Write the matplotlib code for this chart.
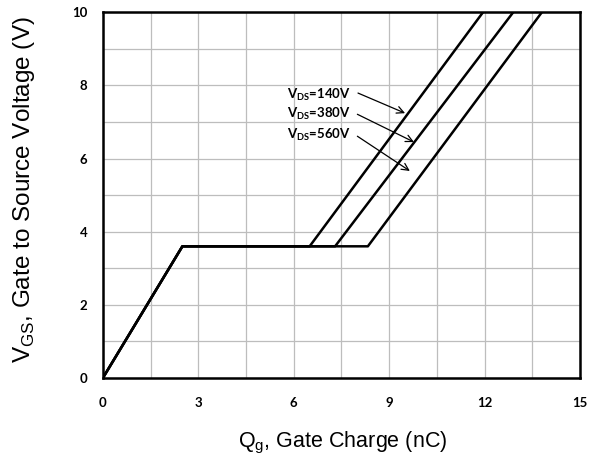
import matplotlib
matplotlib.use("Agg")
import matplotlib.pyplot as plt
import numpy as np

# data
vds_labels = ["140V", "380V", "560V"]
qg_curves = [
    [0, 2.5, 6.5, 11.95],
    [0, 2.5, 7.3, 12.9],
    [0, 2.5, 8.33, 13.8],
]
vgs_curves = [
    [0, 3.6, 3.6, 10],
    [0, 3.6, 3.6, 10],
    [0, 3.6, 3.6, 10],
]
xticks = [0, 3, 6, 9, 12, 15]
yticks = [0, 2, 4, 6, 8, 10]
label_pos = [(5.79, 7.73), (5.79, 7.21), (5.79, 6.64)]
arrow_start = [(8.02, 7.79), (8.0, 7.21), (8.0, 6.61)]
arrow_tip = [(9.5, 7.24), (9.78, 6.45), (9.65, 5.66)]

plt.rcParams['font.family'] = ['Liberation Sans', 'DejaVu Sans']
fig = plt.figure(figsize=(5.98, 4.63), dpi=100)
ax = fig.add_axes([0.172, 0.1836, 0.798, 0.790])

ax.set_xlim(0, 15)
ax.set_ylim(0, 10)
ax.set_xticks(xticks)
ax.set_xticks(np.arange(1.5, 15, 3), minor=True)
ax.set_yticks(yticks)
ax.set_yticks(np.arange(1, 10, 2), minor=True)
ax.grid(True, which='both', color='#bdbdbd', linewidth=0.9)
ax.tick_params(axis='x', which='both', length=0, pad=13.5)
ax.tick_params(axis='y', which='both', length=0, pad=11)
for lbl in ax.get_xticklabels() + ax.get_yticklabels():
    lbl.set_fontweight('bold')
    lbl.set_fontsize(9.5)
    lbl.set_family(['Lato', 'DejaVu Sans'])

for s in ax.spines.values():
    s.set_linewidth(1.8)
    s.set_color('black')

for xs, ys in zip(qg_curves, vgs_curves):
    ax.plot(xs, ys, color='black', linewidth=1.8, zorder=3)

for lab, (lx, ly), (sx, sy), (tx, ty) in zip(vds_labels, label_pos, arrow_start, arrow_tip):
    ax.text(lx, ly, r"V$_{\mathregular{DS}}$=" + lab, fontsize=9.5, fontweight='bold',
            family=['Lato', 'DejaVu Sans'], va='center', ha='left', zorder=4)
    ax.annotate("", xy=(tx, ty), xytext=(sx, sy),
                arrowprops=dict(arrowstyle='->,head_length=0.5,head_width=0.25',
                                color='black', lw=0.9, shrinkA=0, shrinkB=0), zorder=4)

fig.text(343 / 598, 1 - 443 / 463, r"Q$_\mathregular{g}$, Gate Charge (nC)",
         fontsize=15.5, ha='center', va='center')
fig.text(24 / 598, 1 - 190 / 463, r"V$_\mathregular{GS}$, Gate to Source Voltage (V)",
         fontsize=17.5, ha='center', va='center', rotation=90)

fig.savefig("out.png", dpi=100)
